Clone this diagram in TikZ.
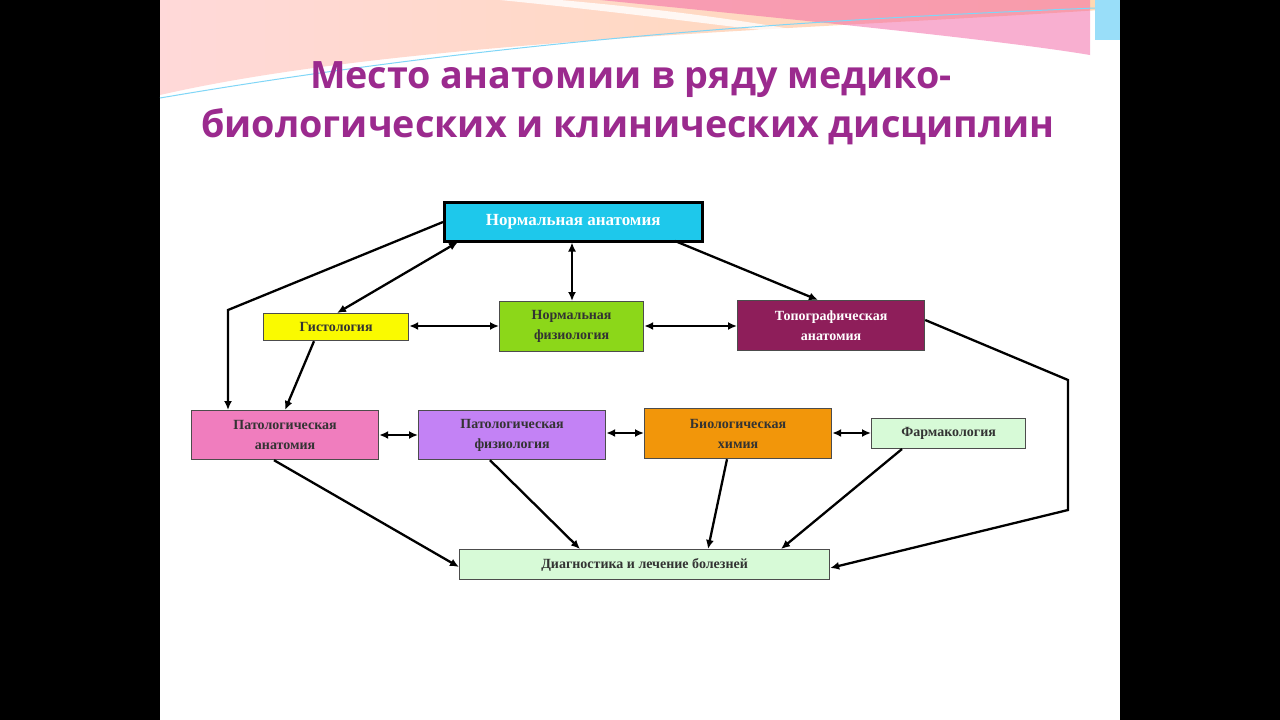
\documentclass[tikz,border=0pt]{standalone}
\usepackage{fontspec}
\setmainfont{Liberation Serif}
\newfontfamily\titlefont{Open Sans}
\usetikzlibrary{arrows.meta}
\definecolor{ttl}{HTML}{9B2A8E}
\tikzset{
 box/.style={draw=black!70, line width=1.2pt, font=\bfseries\fontsize{14}{20}\selectfont, align=center, inner sep=0pt, anchor=north west, text=black!80},
 con/.style={line width=2.3pt, -{Latex[length=9pt,width=8pt]}},
 bi/.style={line width=2.3pt, {Latex[length=9pt,width=8pt]}-{Latex[length=9pt,width=8pt]}},
}
\begin{document}
\begin{tikzpicture}[x=1pt,y=-1pt]
\useasboundingbox (0,0) rectangle (1280,720);
\fill[black] (0,0) rectangle (1280,720);
\fill[white] (160,0) rectangle (1120,720);
% decorative swooshes
\shade[left color=pink!60, right color=orange!30] (160,0) -- (1100,0) -- (1100,10) .. controls (800,30) and (400,40) .. (160,95) -- cycle;
\fill[magenta!50!pink, opacity=0.5] (600,0) .. controls (800,20) and (1000,40) .. (1090,55) -- (1090,0) -- cycle;
\fill[white, opacity=0.8] (500,0) .. controls (650,15) and (750,30) .. (850,40) .. controls (750,20) and (650,8) .. (560,0) -- cycle;
\draw[cyan!50, line width=1pt] (160,98) .. controls (500,40) and (800,20) .. (1095,8);
\fill[cyan!40] (1095,0) rectangle (1120,40);
% title
\node[font=\titlefont\bfseries\fontsize{37.7}{42}\selectfont, text=ttl, align=center] (t1) at (631,80) {Место анатомии в ряду медико-};
\node[font=\titlefont\bfseries\fontsize{37.7}{42}\selectfont, text=ttl, align=center] (t2) at (628,127) {биологических и клинических дисциплин};
% boxes
\node[box, draw=black, line width=2.5pt, fill={rgb,255:red,30;green,200;blue,235}, text=white, minimum width=258, minimum height=39, font=\bfseries\fontsize{17}{19}\selectfont] (na) at (443,201) {Нормальная анатомия};
\node[box, fill={rgb,255:red,250;green,250;blue,0}, minimum width=145, minimum height=27] (hi) at (263,313) {Гистология};
\node[box, fill={rgb,255:red,140;green,215;blue,25}, minimum width=144, minimum height=50] (nf) at (499,301) {Нормальная\\физиология};
\node[box, fill={rgb,255:red,142;green,30;blue,90}, text=white, minimum width=187, minimum height=50] (tp) at (737,300) {Топографическая\\анатомия};
\node[box, fill={rgb,255:red,240;green,125;blue,190}, minimum width=187, minimum height=49] (pa) at (191,410) {Патологическая\\анатомия};
\node[box, fill={rgb,255:red,195;green,130;blue,245}, minimum width=187, minimum height=49] (pf) at (418,410) {Патологическая\\физиология};
\node[box, fill={rgb,255:red,242;green,150;blue,10}, minimum width=187, minimum height=50] (bc) at (644,408) {Биологическая\\химия};
\node[box, fill={rgb,255:red,215;green,250;blue,215}, minimum width=154, minimum height=30] (fm) at (871,418) {Фармакология};
\node[box, fill={rgb,255:red,215;green,250;blue,215}, minimum width=370, minimum height=30] (dg) at (459,549) {Диагностика и лечение болезней};
% connectors
\coordinate (c1) at (228,310);
\coordinate (c2) at (1068,380);
\coordinate (c3) at (1068,510);
\draw[con] (na.west |- 0,222) -- (c1) -- (pa.north -| c1);
\draw[bi] (hi.north -| 337,0) -- (458,242);
\draw[bi] (na.south -| 572,0) -- (nf.north -| 572,0);
\draw[con] (675,241) -- (tp.north -| 818,0);
\draw[bi] (hi.east |- 0,326) -- (nf.west |- 0,326);
\draw[bi] (nf.east |- 0,326) -- (tp.west |- 0,326);
\draw[con] (hi.south -| 314,0) -- (pa.north -| 285,0);
\draw[bi] (pa.east |- 0,435) -- (pf.west |- 0,435);
\draw[bi] (pf.east |- 0,433) -- (bc.west |- 0,433);
\draw[bi] (bc.east |- 0,433) -- (fm.west |- 0,433);
\draw[con] (pa.south -| 274,0) -- (dg.west |- 0,567);
\draw[con] (pf.south -| 490,0) -- (dg.north -| 580,0);
\draw[con] (bc.south -| 727,0) -- (dg.north -| 708,0);
\draw[con] (902,449) -- (dg.north -| 781,0);
\draw[con] (tp.east |- 0,320) -- (c2) -- (c3) -- (dg.east |- 0,568);
\end{tikzpicture}
\end{document}
